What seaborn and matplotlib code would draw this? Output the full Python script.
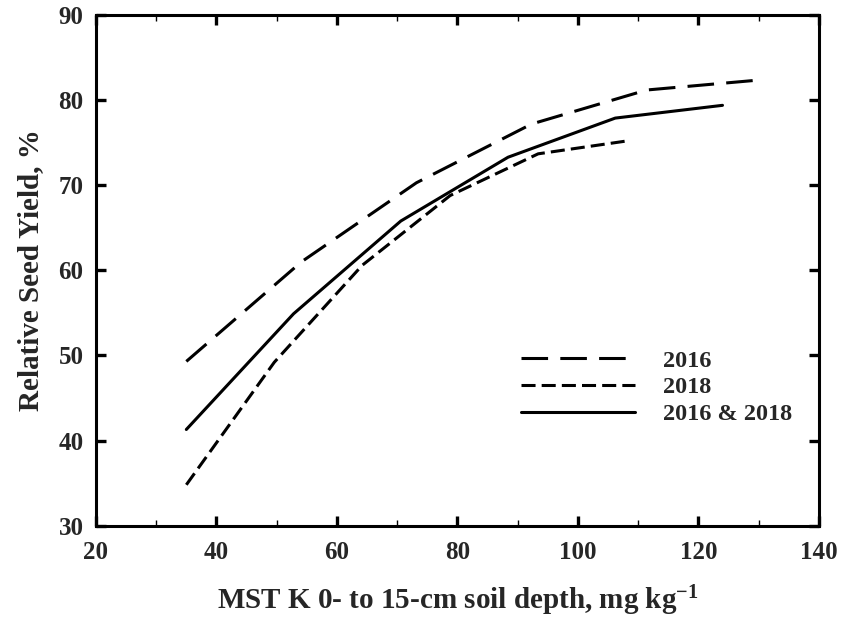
import matplotlib
matplotlib.use("Agg")
import matplotlib.pyplot as plt
import matplotlib.ticker as mticker
import pandas as pd
import seaborn as sns

# values
X_2016 = [35.0, 54.1, 73.2, 92.3, 111.4, 130.5]
Y_2016 = [49.3, 61.0, 70.3, 77.2, 81.2, 82.4]
X_2018 = [35.0, 49.6, 64.2, 78.8, 93.4, 108.0]
Y_2018 = [34.8, 49.2, 60.6, 68.8, 73.7, 75.2]
X_BOTH = [35.0, 52.8, 70.6, 88.4, 106.2, 124.0]
Y_BOTH = [41.3, 54.9, 65.8, 73.3, 77.9, 79.4]

SERIES = ["2016", "2018", "2016 & 2018"]
X_TICKS = [20, 40, 60, 80, 100, 120, 140]
Y_TICKS = [30, 40, 50, 60, 70, 80, 90]

df = pd.concat([
    pd.DataFrame({"K": X_2016, "RY": Y_2016, "Year": SERIES[0]}),
    pd.DataFrame({"K": X_2018, "RY": Y_2018, "Year": SERIES[1]}),
    pd.DataFrame({"K": X_BOTH, "RY": Y_BOTH, "Year": SERIES[2]}),
], ignore_index=True)

sns.set_style("ticks")
plt.rcParams["font.family"] = ["Liberation Serif", "DejaVu Serif"]
plt.rcParams["font.weight"] = "bold"
plt.rcParams["mathtext.fontset"] = "custom"
plt.rcParams["mathtext.rm"] = "Liberation Serif:bold"
plt.rcParams["mathtext.bf"] = "Liberation Serif:bold"
plt.rcParams["mathtext.default"] = "bf"

fig = plt.figure(figsize=(8.53, 6.31), dpi=100)
ax = fig.add_axes([0.1125, 0.167, 0.8475, 0.809])

dashes = {"2016": (8.7, 4.0), "2018": (4.6, 2.0), "2016 & 2018": ""}
sns.lineplot(data=df, x="K", y="RY", style="Year", style_order=SERIES,
             dashes=dashes, color="black", linewidth=2.2, ax=ax,
             sort=False, estimator=None)

ax.set_xlim(20, 140)
ax.set_ylim(30, 90)
ax.set_xticks(X_TICKS)
ax.set_yticks(Y_TICKS)
ax.xaxis.set_minor_locator(mticker.MultipleLocator(10))
ax.tick_params(which="both", direction="in", top=True, right=True,
               labelsize=18, color="black")
ax.tick_params(which="major", length=7.5, width=2.4)
ax.tick_params(which="minor", length=4.5, width=1.0)
ax.tick_params(axis="x", which="major", pad=11)
ax.tick_params(axis="y", which="major", pad=9)
for lab in ax.get_xticklabels() + ax.get_yticklabels():
    lab.set_fontweight("bold")
for sp in ax.spines.values():
    sp.set_linewidth(2.2)
    sp.set_color("black")

ax.set_xlabel("MST K 0- to 15-cm soil depth, mg kg$^{-1}$",
              fontsize=21, fontweight="bold", labelpad=14)
ax.set_ylabel("Relative Seed Yield, %", fontsize=21, fontweight="bold",
              labelpad=10)

handles, labels = ax.get_legend_handles_labels()
leg = ax.legend(handles, labels, frameon=False, loc="upper left",
                bbox_to_anchor=(0.588, 0.345), borderaxespad=0, borderpad=0,
                handlelength=4.7, handletextpad=1.15, labelspacing=0.2,
                prop={"family": "Liberation Serif", "weight": "bold", "size": 17.5})

fig.savefig("out.png", dpi=100)
